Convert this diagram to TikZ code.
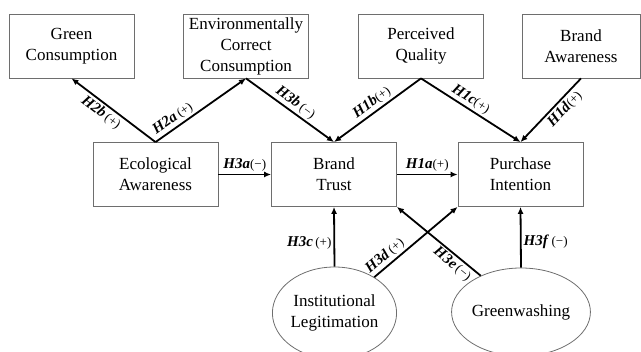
\documentclass[tikz,border=0pt]{standalone}
\usepackage{fontspec}
\setmainfont{Liberation Serif}
\usepackage{tikz}
\usetikzlibrary{arrows.meta,positioning,calc,shapes.geometric}
\definecolor{boxgray}{HTML}{6E6E6E}
\newcommand{\hlab}[2]{\textbf{\textit{#1}}\,{\fontsize{13}{13}\selectfont(#2)}}
\newcommand{\hlabtight}[2]{\textbf{\textit{#1}}{\fontsize{13}{13}\selectfont(#2)}}

\begin{document}
\begin{tikzpicture}[x=1pt,y=-1pt,
    construct/.style={draw=boxgray,line width=0.8pt,minimum width=125pt,minimum height=64pt,
      align=center,font=\fontsize{17}{21}\selectfont,inner sep=1pt},
    latent/.style={draw=boxgray,line width=0.8pt,ellipse,align=center,
      font=\fontsize{17}{21}\selectfont,inner sep=0pt},
    path/.style={line width=1.8pt,-{Latex[length=7pt,width=6pt]}},
    hyp/.style={font=\fontsize{15}{15}\selectfont,inner sep=2pt}]
  \useasboundingbox (0,0) rectangle (641,352);
  % top row
  \node[construct] (GC)  at (71.5,46)  {Green\\Consumption};
  \node[construct] (ECC) at (246,46)   {Environmentally\\Correct\\Consumption};
  \node[construct] (PQ)  at (421,46)   {Perceived\\Quality};
  \node[construct,minimum width=118pt] (BA) at (581,46) {Brand\\Awareness};
  % middle row
  \node[construct] (EA) at (155.5,174.5) {Ecological\\Awareness};
  \node[construct] (BT) at (334,174.5)   {Brand\\Trust};
  \node[construct] (PI) at (520.5,174.5) {Purchase\\Intention};
  % moderators
  \node[latent,minimum width=105pt,minimum height=92pt] (IL) at (334.5,313) {Institutional\\Legitimation};
  \node[latent,minimum width=104pt,minimum height=88pt] (GW) at (521,312)   {Greenwashing};

  \draw[path] (EA.north) -- node[hyp,sloped,below,pos=0.58] {\hlab{H2b}{+}} (GC.south);
  \draw[path] (EA.north) -- node[hyp,sloped,above,pos=0.25] {\hlab{H2a}{+}} (ECC.south);
  \draw[path] (ECC.south) -- node[hyp,sloped,above,pos=0.5] {\hlab{H3b}{−}} (BT.north);
  \draw[path] (PQ.south) -- node[hyp,sloped,above,pos=0.5] {\hlabtight{H1b}{+}} (BT.north);
  \draw[path] (PQ.south) -- node[hyp,sloped,above,pos=0.45] {\hlabtight{H1c}{+}} (PI.north);
  \draw[path] (BA.south) -- node[hyp,sloped,below,pos=0.38] {\hlabtight{H1d}{+}} (PI.north);
  \draw[path] (EA.east) -- node[hyp,above] {\hlabtight{H3a}{−}} (BT.west);
  \draw[path] (BT.east) -- node[hyp,above] {\hlabtight{H1a}{+}} (PI.west);
  \draw[path] (IL.north) -- node[hyp,left,pos=0.4] {\hlab{H3c}{+}} (BT.south);
  \draw[path] (IL.42) -- node[hyp,sloped,above,pos=0.2] {\hlab{H3d}{+}} (PI.south west);
  \draw[path] (GW.138) -- node[hyp,sloped,below,pos=0.27] {\hlab{H3e}{−}} (BT.south east);
  \draw[path] (GW.north) -- node[hyp,right,pos=0.43] {\hlab{H3f}{−}} (PI.south);
\end{tikzpicture}
\end{document}
